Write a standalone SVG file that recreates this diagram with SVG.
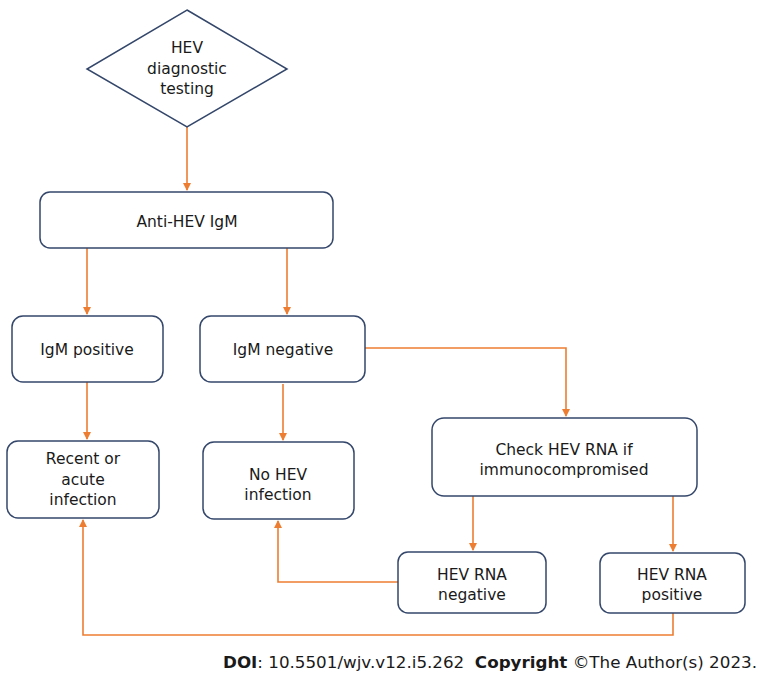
<svg xmlns="http://www.w3.org/2000/svg" width="759" height="675" viewBox="0 0 759 675">
<style>
.n{fill:#fff;stroke:#34476b;stroke-width:1.5}
.t{font-family:"DejaVu Sans",Verdana,sans-serif;font-size:15.5px;fill:#1a1a1a;text-anchor:middle}
.c{fill:none;stroke:#ed7d31;stroke-width:1.6;marker-end:url(#a)}
.f{font-family:"DejaVu Sans",Verdana,sans-serif;font-size:16.5px;fill:#1a1a1a}
</style>
<defs>
<marker id="a" markerWidth="8" markerHeight="8" refX="7" refY="4" orient="auto" markerUnits="userSpaceOnUse">
<path d="M0,0 L8,4 L0,8 z" fill="#ed7d31"/>
</marker>
</defs>
<rect width="759" height="675" fill="#fff"/>
<g id="connectors">
<path class="c" d="M187,127 V190"/>
<path class="c" d="M87,248 V314"/>
<path class="c" d="M287,248 V314"/>
<path class="c" d="M87,382 V439"/>
<path class="c" d="M283,384 V440"/>
<path class="c" d="M365,348 H566 V416"/>
<path class="c" d="M473,496 V550"/>
<path class="c" d="M673,496 V551"/>
<path class="c" d="M398,582 H278 V521"/>
<path class="c" d="M673,613 V635 H83 V520"/>
</g>
<g id="start">
<polygon class="n" points="187,10 287,69 187,127 87,69"/>
<text class="t" x="187" y="53">HEV</text>
<text class="t" x="187" y="74">diagnostic</text>
<text class="t" x="187" y="94">testing</text>
</g>
<g id="antiHEV">
<rect class="n" x="40" y="192" width="293" height="56" rx="10"/>
<text class="t" x="187" y="227">Anti-HEV IgM</text>
</g>
<g id="igmPos">
<rect class="n" x="12" y="316" width="151" height="66" rx="11"/>
<text class="t" x="87" y="355">IgM positive</text>
</g>
<g id="igmNeg">
<rect class="n" x="200" y="316" width="165" height="66" rx="11"/>
<text class="t" x="283" y="355">IgM negative</text>
</g>
<g id="recent">
<rect class="n" x="7" y="441" width="152" height="77" rx="11"/>
<text class="t" x="83" y="464">Recent or</text>
<text class="t" x="83" y="485">acute</text>
<text class="t" x="83" y="505">infection</text>
</g>
<g id="noHEV">
<rect class="n" x="203" y="442" width="151" height="77" rx="11"/>
<text class="t" x="278" y="480">No HEV</text>
<text class="t" x="278" y="500">infection</text>
</g>
<g id="checkRNA">
<rect class="n" x="432" y="418" width="265" height="78" rx="12"/>
<text class="t" x="564" y="455">Check HEV RNA if</text>
<text class="t" x="564" y="475">immunocompromised</text>
</g>
<g id="rnaNeg">
<rect class="n" x="398" y="552" width="148" height="61" rx="10"/>
<text class="t" x="472" y="580">HEV RNA</text>
<text class="t" x="472" y="600">negative</text>
</g>
<g id="rnaPos">
<rect class="n" x="600" y="553" width="145" height="60" rx="10"/>
<text class="t" x="672" y="580">HEV RNA</text>
<text class="t" x="672" y="600">positive</text>
</g>
<text class="f" x="223" y="668" textLength="534" lengthAdjust="spacingAndGlyphs" xml:space="preserve"><tspan font-weight="bold">DOI</tspan>: 10.5501/wjv.v12.i5.262  <tspan font-weight="bold">Copyright</tspan> ©The Author(s) 2023.</text>
</svg>
